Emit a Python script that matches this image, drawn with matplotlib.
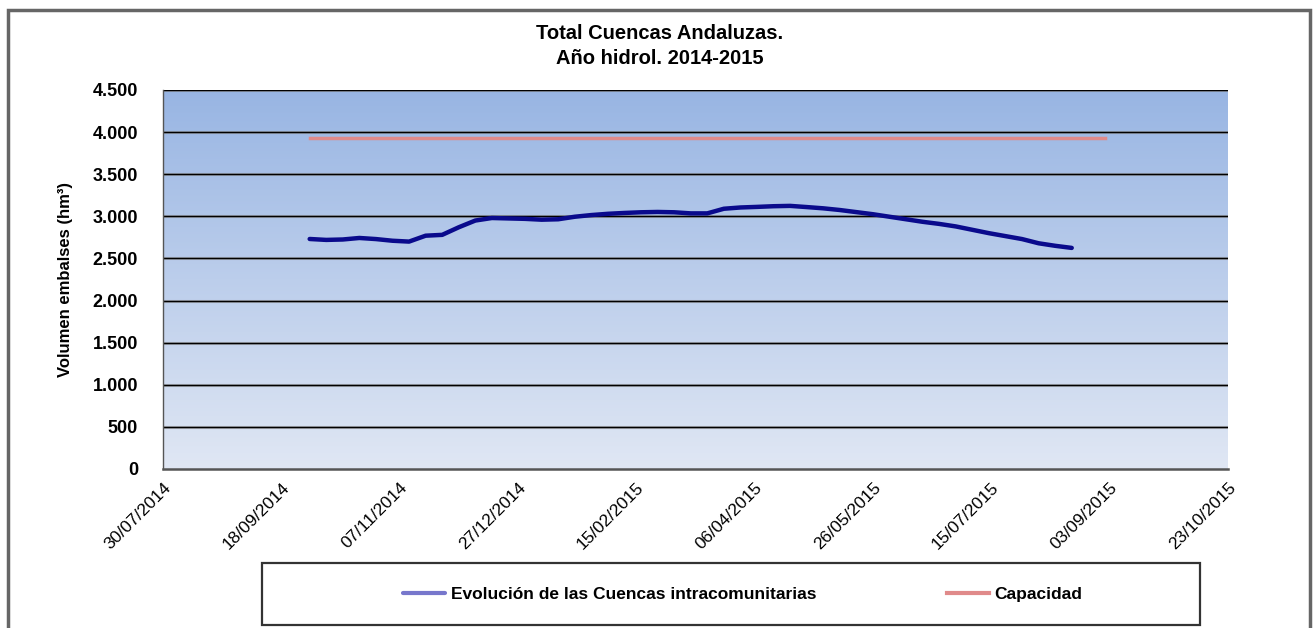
#!/usr/bin/env python3
"""Total Cuencas Andaluzas - volumen embalsado, año hidrológico 2014-2015."""

import datetime as dt

import matplotlib
matplotlib.use("Agg")
import matplotlib.dates as mdates
import matplotlib.pyplot as plt
import numpy as np
from matplotlib.patches import Rectangle
from matplotlib.ticker import FuncFormatter

FONT = ["Liberation Sans", "DejaVu Sans"]

# weekly series starting 30/09/2014
start_date = dt.date(2014, 9, 30)
volumen = [2731, 2720, 2725, 2743, 2730, 2710, 2700, 2770, 2780, 2870,
           2950, 2980, 2975, 2970, 2960, 2965, 2995, 3015, 3030, 3040,
           3048, 3052, 3048, 3035, 3035, 3090, 3105, 3112, 3120, 3124,
           3110, 3095, 3075, 3050, 3025, 2995, 2965, 2935, 2910, 2880,
           2840, 2800, 2765, 2730, 2680, 2650, 2625]
capacidad_dates = [dt.date(2014, 9, 30), dt.date(2015, 9, 1)]
capacidad = [3931, 3931]

tick_start = dt.date(2014, 7, 30)
tick_step_days = 50
n_ticks = 10

dates = [start_date + dt.timedelta(days=7 * i) for i in range(len(volumen))]
ticks = [tick_start + dt.timedelta(days=tick_step_days * i) for i in range(n_ticks)]

fig = plt.figure(figsize=(13.14, 6.28), dpi=100)
ax = fig.add_axes([0.124, 0.2532, 0.8105, 0.6035])

# gradient background
grad = np.linspace(0, 1, 256).reshape(-1, 1)
top = np.array([0x98, 0xb5, 0xe3]) / 255
bottom = np.array([0xe0, 0xe7, 0xf4]) / 255
img = top + (bottom - top) * grad[:, :, None]
ax.imshow(img, aspect="auto", extent=[0, 1, 0, 1], transform=ax.transAxes,
          zorder=0, origin="upper")

ax.set_xlim(mdates.date2num(ticks[0]), mdates.date2num(ticks[-1]))
ax.set_ylim(0, 4500)
ax.set_yticks(range(0, 4501, 500))

for yv in range(500, 4501, 500):
    ax.axhline(yv, color="#888888", linewidth=2.2, zorder=1, alpha=0.6)
    ax.axhline(yv, color="black", linewidth=1.0, zorder=1.1)

ax.plot(capacidad_dates, capacidad, color="#e08a8a", linewidth=2.5,
        zorder=3, label="Capacidad")
ax.plot(dates, volumen, color="#0a0a8c", linewidth=3.2, zorder=4,
        solid_capstyle="round",
        label="Evolución de las Cuencas intracomunitarias")

ax.set_xticks([mdates.date2num(t) for t in ticks])
ax.set_xticklabels([t.strftime("%d/%m/%Y") for t in ticks], rotation=45,
                   ha="right", va="top", rotation_mode="anchor",
                   fontsize=12.5, family=FONT)
ax.yaxis.set_major_formatter(FuncFormatter(
    lambda v, p: f"{int(v):,}".replace(",", ".")))
for lab in ax.get_yticklabels():
    lab.set_fontweight("bold")
    lab.set_family(FONT)
    lab.set_fontsize(13)
ax.tick_params(axis="y", length=0, pad=18)
ax.tick_params(axis="x", length=0, pad=8)

for side in ("top", "right"):
    ax.spines[side].set_visible(False)
ax.spines["left"].set_color("#555555")
ax.spines["bottom"].set_color("#555555")
ax.spines["bottom"].set_linewidth(1.8)
ax.spines["left"].set_linewidth(1.0)

ax.set_ylabel("Volumen embalses (hm³)", fontsize=12, fontweight="bold",
              family=FONT, labelpad=14)

fig.text(0.502, 0.947, "Total Cuencas Andaluzas.", ha="center", va="center",
         fontsize=14.5, fontweight="bold", family=FONT)
fig.text(0.502, 0.907, "Año hidrol. 2014-2015", ha="center", va="center",
         fontsize=14.5, fontweight="bold", family=FONT)

# legend box below the plot
fig.patches.append(Rectangle((262 / 1314, 3 / 628), 938 / 1314, 62 / 628,
                             transform=fig.transFigure, fill=False,
                             edgecolor="#333333", linewidth=1.6))
handles, labels = ax.get_legend_handles_labels()
leg = fig.legend(handles[::-1], labels[::-1], loc="center",
                 bbox_to_anchor=(0.5654, 0.054),
                 ncol=2, frameon=False, columnspacing=7.5,
                 handlelength=2.4, handletextpad=0.35,
                 prop={"family": FONT, "weight": "bold", "size": 12.5})
for line in leg.get_lines():
    line.set_linewidth(3)
leg.get_lines()[0].set_color("#7777cc")

# outer chart border
fig.patches.append(Rectangle((0.006, -0.01), 0.991, 0.994,
                             transform=fig.transFigure, fill=False,
                             edgecolor="#666666", linewidth=2.5))

fig.savefig("out.png", dpi=100)
plt.close(fig)
